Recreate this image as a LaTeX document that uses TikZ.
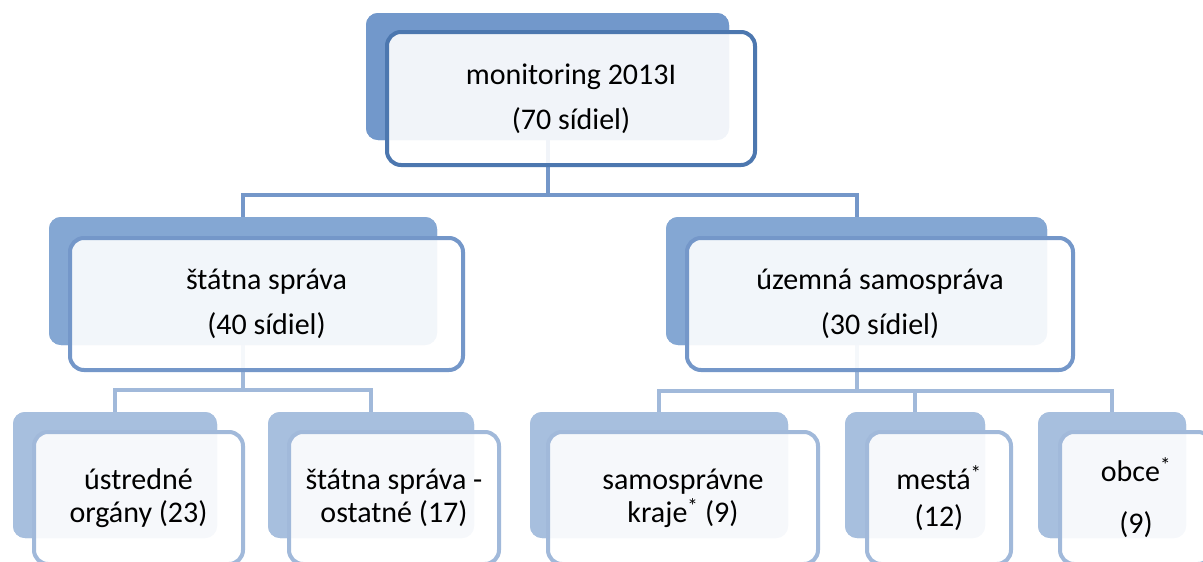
\documentclass[tikz,border=0pt]{standalone}
\usepackage{fontspec}
\setmainfont{Carlito}
\definecolor{topback}{HTML}{7298CB}
\definecolor{topline}{HTML}{4C77AF}
\definecolor{midback}{HTML}{84A7D3}
\definecolor{midline}{HTML}{7497C9}
\definecolor{lowback}{HTML}{A7BFDE}
\definecolor{lowline}{HTML}{A1B9DA}
\begin{document}
\begin{tikzpicture}[x=1pt,y=-1pt,
  backbox/.style={rectangle, rounded corners=12pt, inner sep=0pt, outer sep=0pt},
  frontbox/.style={rectangle, rounded corners=14pt, line width=4pt, fill=white,
    fill opacity=0.9, text opacity=1, draw opacity=1, inner sep=0pt, outer sep=0pt,
    align=center, text=black},
  conn/.style={line width=4pt},
  bigtext/.style={font=\fontsize{30pt}{45pt}\selectfont},
  lowtext/.style={font=\fontsize{30pt}{33pt}\selectfont}
]
\useasboundingbox (0,0) rectangle (1203,562);
\fill[white] (0,0) rectangle (1203,562);

% back boxes
\node[backbox, fill=topback, minimum width=363pt, minimum height=127pt] (topb) at (547.5,76.5) {};
\node[backbox, fill=midback, minimum width=388pt, minimum height=128pt] (lb) at (243,281) {};
\node[backbox, fill=midback, minimum width=381pt, minimum height=128pt] (rb) at (856.5,281) {};
\node[backbox, fill=lowback, minimum width=204pt, minimum height=126pt] (ab) at (115,475) {};
\node[backbox, fill=lowback, minimum width=206pt, minimum height=126pt] (bb) at (371,475) {};
\node[backbox, fill=lowback, minimum width=258pt, minimum height=126pt] (cb) at (659,475) {};
\node[backbox, fill=lowback, minimum width=140pt, minimum height=126pt] (db) at (915,475) {};
\node[backbox, fill=lowback, minimum width=148pt, minimum height=126pt] (eb) at (1112,475) {};

% connectors
\coordinate (bus1) at (0,195);
\coordinate (bus2) at (0,390);
\coordinate (bus3) at (0,391);
\draw[conn, midline] (topb.south) -- (topb.south |- bus1);
\draw[conn, midline] (lb.north) |- (rb.north |- bus1) -- (rb.north);
\draw[conn, lowline] (lb.south) -- (lb.south |- bus2);
\draw[conn, lowline] (ab.north) |- (bb.north |- bus2) -- (bb.north);
\draw[conn, lowline] (rb.south) -- (rb.south |- bus3);
\draw[conn, lowline] (cb.north) |- (eb.north |- bus3) -- (eb.north);
\draw[conn, lowline] (db.north) -- (db.north |- bus3);

% redraw back boxes above connectors
\fill[topback, rounded corners=12pt] (topb.south west) rectangle (topb.north east);
\fill[midback, rounded corners=12pt] (lb.south west) rectangle (lb.north east);
\fill[midback, rounded corners=12pt] (rb.south west) rectangle (rb.north east);
\fill[lowback, rounded corners=12pt] (ab.south west) rectangle (ab.north east);
\fill[lowback, rounded corners=12pt] (bb.south west) rectangle (bb.north east);
\fill[lowback, rounded corners=12pt] (cb.south west) rectangle (cb.north east);
\fill[lowback, rounded corners=12pt] (db.south west) rectangle (db.north east);
\fill[lowback, rounded corners=12pt] (eb.south west) rectangle (eb.north east);

% front boxes
\node[frontbox, draw=topline, bigtext, minimum width=368pt, minimum height=133pt] (top) at (571,98.5)
  {monitoring 2013I\\(70 sídiel)};
\node[frontbox, draw=midline, bigtext, minimum width=393pt, minimum height=132pt] (left) at (266.5,304)
  {štátna správa\\(40 sídiel)};
\node[frontbox, draw=midline, bigtext, minimum width=386pt, minimum height=132pt] (right) at (880,304)
  {územná samospráva\\(30 sídiel)};
\node[frontbox, draw=lowline, lowtext, minimum width=209pt, minimum height=132pt] (a) at (138.5,498)
  {ústredné\\orgány (23)};
\node[frontbox, draw=lowline, lowtext, minimum width=210pt, minimum height=132pt] (b) at (394,498)
  {štátna správa -\\ostatné (17)};
\node[frontbox, draw=lowline, lowtext, minimum width=270pt, minimum height=132pt] (c) at (683,498)
  {samosprávne\\kraje\textsuperscript{*} (9)};
\node[frontbox, draw=lowline, font=\fontsize{30pt}{37pt}\selectfont, minimum width=144pt, minimum height=132pt] (d) at (939,498)
  {mestá\textsuperscript{*}\\(12)};
\node[frontbox, draw=lowline, font=\fontsize{30pt}{52pt}\selectfont, minimum width=152pt, minimum height=132pt] (e) at (1136,498)
  {obce\textsuperscript{*}\\(9)};
\end{tikzpicture}
\end{document}
